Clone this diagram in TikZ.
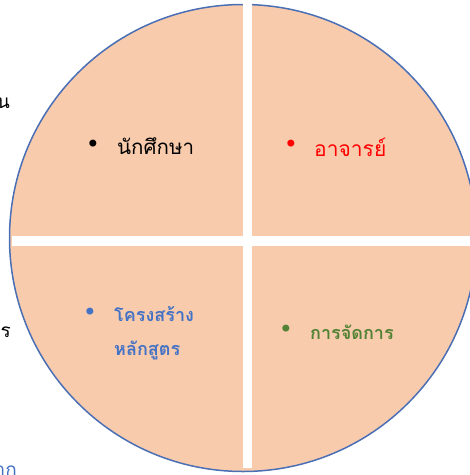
\documentclass[tikz,border=0pt]{standalone}
\usepackage{fontspec}
\newfontfamily\thai[Script=Thai]{Loma}
\newfontfamily\sym{DejaVu Sans}
\definecolor{peach}{HTML}{F8CBAD}
\definecolor{rim}{HTML}{4A6FB5}
\definecolor{tblue}{HTML}{4472C4}
\definecolor{tred}{HTML}{FF0000}
\definecolor{tgreen}{HTML}{548235}
\tikzset{
  lbl/.style={anchor=west, inner sep=0pt, font=\thai\fontsize{20.5}{30}\selectfont},
  lblb/.style={anchor=west, inner sep=0pt, font=\thai\bfseries\fontsize{18}{34}\selectfont},
  bul/.style={anchor=center, inner sep=0pt, font=\sym\fontsize{24}{24}\selectfont},
  frag/.style={anchor=east, inner sep=0pt, font=\thai\fontsize{19}{22}\selectfont}
}
\begin{document}
\begin{tikzpicture}[x=1pt,y=-1pt]
\useasboundingbox (0,0) rectangle (470,475);
\begin{scope}
\clip (0,0) rectangle (470,475);
% background fragments of text behind the picture
\node[frag] (f1) at (10,100) {ใน};
\node[frag] (f2) at (11,332) {การ};
\node[frag, text=tblue] (f3) at (17,471) {จาก};
% circle
\node[circle, draw=rim, line width=1.5pt, fill=peach, minimum size=467pt, inner sep=0pt] (c) at (243,238) {};
\fill[white] (243,0) rectangle (252,468);
\fill[white] (12,236) rectangle (470,246);
% labels
\node[bul] (b1) at (93,146) {•};
\node[lbl] (t1) at (117,146) {นักศึกษา};
\node[bul, text=tred] (b2) at (291,146) {•};
\node[lbl, text=tred, font=\thai\fontsize{21}{30}\selectfont] (t2) at (314,147) {อาจารย์};
\node[bul, text=tblue] (b3) at (90,314) {•};
\node[lblb, text=tblue, align=left] (t3) at (114,333) {โครงสร้าง\\หลักสูตร};
\node[bul, text=tgreen] (b4) at (286,331) {•};
\node[lblb, text=tgreen] (t4) at (310,332) {การจัดการ};
\end{scope}
\end{tikzpicture}
\end{document}
